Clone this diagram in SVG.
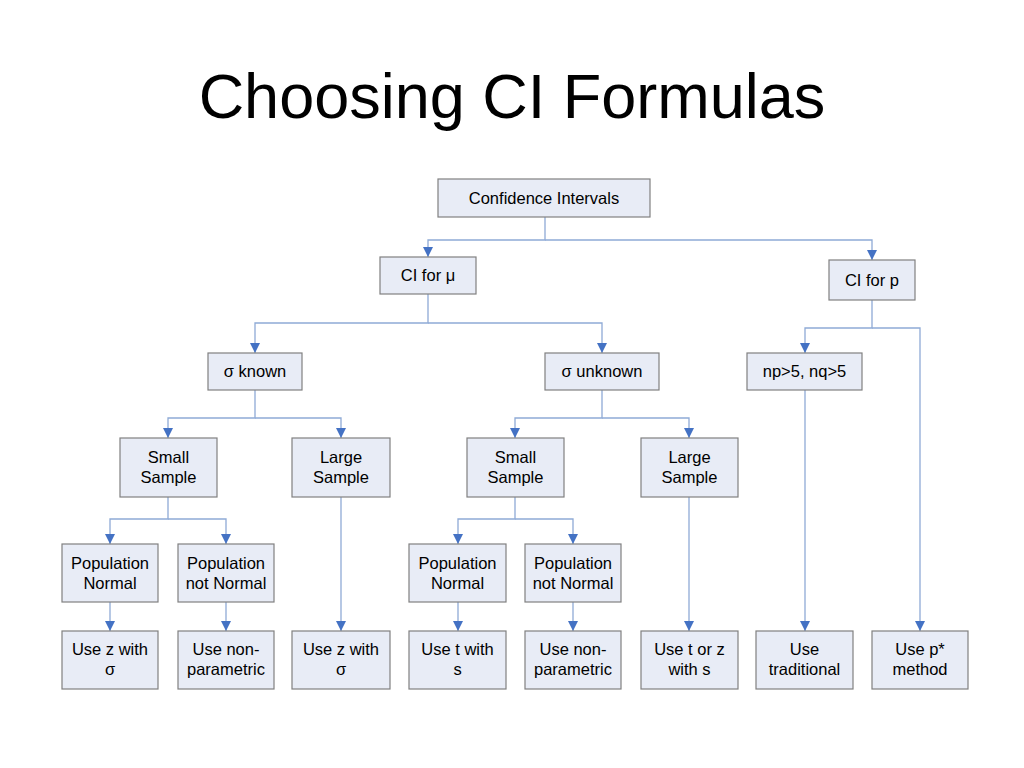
<svg xmlns="http://www.w3.org/2000/svg" width="1024" height="768" viewBox="0 0 1024 768">
<defs>
<marker id="arr" markerUnits="userSpaceOnUse" markerWidth="10" markerHeight="10" viewBox="0 0 10 10" refX="10" refY="5" orient="auto">
<path d="M0,0 L10,5 L0,10 Z" fill="#4472C4"/>
</marker>
<style>
.box{fill:#E8ECF6;stroke:#808080;stroke-width:1.2}
.t{font-family:"Liberation Sans",Arial,sans-serif;font-size:16.5px;fill:#000;text-anchor:middle}
.c{fill:none;stroke:#8FAAD6;stroke-width:1.3;marker-end:url(#arr)}
.title{font-family:"Liberation Sans",Arial,sans-serif;font-size:63px;fill:#000;text-anchor:middle}
</style>
</defs>
<rect width="1024" height="768" fill="#fff"/>
<text class="title" x="512" y="118">Choosing CI Formulas</text>
<g id="connectors">
<path class="c" d="M545 217 V240 H428 V257"/>
<path class="c" d="M545 240 H872 V260"/>
<path class="c" d="M428 294 V323 H255 V353"/>
<path class="c" d="M428 323 H602 V353"/>
<path class="c" d="M872 300 V328 H805 V353"/>
<path class="c" d="M872 328 H920 V631"/>
<path class="c" d="M255 390 V418 H168 V438"/>
<path class="c" d="M255 418 H341 V438"/>
<path class="c" d="M602 390 V418 H515 V438"/>
<path class="c" d="M602 418 H689 V438"/>
<path class="c" d="M168 497 V519 H110 V544"/>
<path class="c" d="M168 519 H226 V544"/>
<path class="c" d="M515 497 V519 H458 V544"/>
<path class="c" d="M515 519 H573 V544"/>
<path class="c" d="M110 602 V631"/>
<path class="c" d="M226 602 V631"/>
<path class="c" d="M341 497 V631"/>
<path class="c" d="M458 602 V631"/>
<path class="c" d="M573 602 V631"/>
<path class="c" d="M689 497 V631"/>
<path class="c" d="M805 390 V631"/>
</g>
<g id="n-ci"><rect class="box" x="438" y="179" width="212" height="38"/><text class="t" x="544" y="204">Confidence Intervals</text></g>
<g id="n-mu"><rect class="box" x="380" y="257" width="96" height="37"/><text class="t" x="428" y="281">CI for μ</text></g>
<g id="n-p"><rect class="box" x="829" y="260" width="86" height="40"/><text class="t" x="872" y="286">CI for p</text></g>
<g id="n-sk"><rect class="box" x="208" y="353" width="94" height="37"/><text class="t" x="255" y="377">σ known</text></g>
<g id="n-su"><rect class="box" x="545" y="353" width="114" height="37"/><text class="t" x="602" y="377">σ unknown</text></g>
<g id="n-np"><rect class="box" x="747" y="353" width="115" height="37"/><text class="t" x="804.5" y="377">np&gt;5, nq&gt;5</text></g>
<g id="n-ss1"><rect class="box" x="120" y="438" width="97" height="59"/><text class="t" x="168.5" y="463">Small</text><text class="t" x="168.5" y="483">Sample</text></g>
<g id="n-ls1"><rect class="box" x="292" y="438" width="98" height="59"/><text class="t" x="341" y="463">Large</text><text class="t" x="341" y="483">Sample</text></g>
<g id="n-ss2"><rect class="box" x="467" y="438" width="97" height="59"/><text class="t" x="515.5" y="463">Small</text><text class="t" x="515.5" y="483">Sample</text></g>
<g id="n-ls2"><rect class="box" x="641" y="438" width="97" height="59"/><text class="t" x="689.5" y="463">Large</text><text class="t" x="689.5" y="483">Sample</text></g>
<g id="n-pn1"><rect class="box" x="62" y="544" width="96" height="58"/><text class="t" x="110" y="569">Population</text><text class="t" x="110" y="589">Normal</text></g>
<g id="n-pnn1"><rect class="box" x="178" y="544" width="96" height="58"/><text class="t" x="226" y="569">Population</text><text class="t" x="226" y="589">not Normal</text></g>
<g id="n-pn2"><rect class="box" x="409" y="544" width="97" height="58"/><text class="t" x="457.5" y="569">Population</text><text class="t" x="457.5" y="589">Normal</text></g>
<g id="n-pnn2"><rect class="box" x="525" y="544" width="96" height="58"/><text class="t" x="573" y="569">Population</text><text class="t" x="573" y="589">not Normal</text></g>
<g id="n-r1"><rect class="box" x="62" y="631" width="96" height="58"/><text class="t" x="110" y="655">Use z with</text><text class="t" x="110" y="675">σ</text></g>
<g id="n-r2"><rect class="box" x="178" y="631" width="96" height="58"/><text class="t" x="226" y="655">Use non-</text><text class="t" x="226" y="675">parametric</text></g>
<g id="n-r3"><rect class="box" x="292" y="631" width="98" height="58"/><text class="t" x="341" y="655">Use z with</text><text class="t" x="341" y="675">σ</text></g>
<g id="n-r4"><rect class="box" x="409" y="631" width="97" height="58"/><text class="t" x="457.5" y="655">Use t with</text><text class="t" x="457.5" y="675">s</text></g>
<g id="n-r5"><rect class="box" x="525" y="631" width="96" height="58"/><text class="t" x="573" y="655">Use non-</text><text class="t" x="573" y="675">parametric</text></g>
<g id="n-r6"><rect class="box" x="641" y="631" width="97" height="58"/><text class="t" x="689.5" y="655">Use t or z</text><text class="t" x="689.5" y="675">with s</text></g>
<g id="n-r7"><rect class="box" x="756" y="631" width="97" height="58"/><text class="t" x="804.5" y="655">Use</text><text class="t" x="804.5" y="675">traditional</text></g>
<g id="n-r8"><rect class="box" x="872" y="631" width="96" height="58"/><text class="t" x="920" y="655">Use p*</text><text class="t" x="920" y="675">method</text></g>
</svg>
